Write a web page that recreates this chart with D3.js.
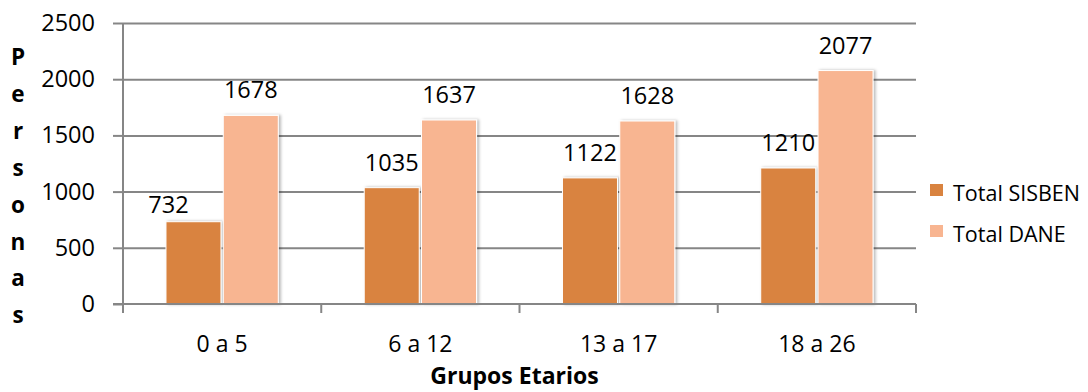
<!DOCTYPE html>
<html>
<head>
<meta charset="utf-8">
<script src="https://cdn.jsdelivr.net/npm/d3@7"></script>
<style>
  html, body { margin: 0; padding: 0; background: #fff; }
  svg { display: block; }
  text { font-family: "Open Sans", sans-serif; fill: #000; }
</style>
</head>
<body>
<svg id="chart" width="1088" height="392"></svg>
<script>
const categories = ["0 a 5", "6 a 12", "13 a 17", "18 a 26"];
const seriesNames = ["Total SISBEN", "Total DANE"];
const sisben = [732, 1035, 1122, 1210];
const dane = [1678, 1637, 1628, 2077];
const yTicks = [0, 500, 1000, 1500, 2000, 2500];
const seriesColors = ["#d9833f", "#f8b591"];
const yTitle = "Personas";
const xTitle = "Grupos Etarios";

(function() {
const svg = d3.select("#chart");
const gray = "#868686";
const pL = 123, pR = 916, pT = 23, pB = 304;

const defs = svg.append("defs");
const f = defs.append("filter").attr("id", "sh").attr("x", "-20%").attr("y", "-20%").attr("width", "140%").attr("height", "140%");
f.append("feDropShadow").attr("dx", 2).attr("dy", 0).attr("stdDeviation", 1.6).attr("flood-color", "#000").attr("flood-opacity", 0.28);

const y = d3.scaleLinear().domain([0, 2500]).range([pB, pT]);
const x0 = d3.scaleBand().domain(categories).range([pL, pR]).padding(0);
const x1 = d3.scaleBand().domain(seriesNames).range([0, x0.bandwidth()]).paddingInner(0.04).paddingOuter(0.75);

// gridlines
const gy = svg.append("g").attr("transform", `translate(${pL},0)`)
  .call(d3.axisLeft(y).tickValues(yTicks).tickSize(-(pR - pL)).tickFormat(""));
gy.select(".domain").remove();
gy.selectAll(".tick line").attr("stroke", gray).attr("stroke-width", 2);
gy.selectAll(".tick").filter(d => d === 0).remove();

// y axis with outward ticks and labels
const ya = svg.append("g").attr("transform", `translate(${pL},0)`)
  .call(d3.axisLeft(y).tickValues(yTicks).tickFormat(d3.format("d")).tickSize(10).tickPadding(18).tickSizeOuter(0));
ya.select(".domain").remove();
ya.selectAll(".tick line").attr("stroke", gray).attr("stroke-width", 2);
ya.selectAll(".tick text").attr("font-size", 23.5).attr("font-family", "Open Sans").attr("fill", "#000");
svg.append("line").attr("x1", pL).attr("x2", pL).attr("y1", pT).attr("y2", pB + 9)
  .attr("stroke", gray).attr("stroke-width", 2);

// bars
const data = categories.map((c, i) => ({ cat: c, vals: [sisben[i], dane[i]] }));
const groups = svg.append("g").selectAll("g").data(data).join("g")
  .attr("transform", d => `translate(${x0(d.cat)},0)`);
groups.selectAll("rect").data(d => d.vals.map((v, j) => ({ v, s: seriesNames[j], j })))
  .join("rect")
  .attr("x", d => x1(d.s))
  .attr("y", d => y(d.v))
  .attr("width", x1.bandwidth())
  .attr("height", d => pB - y(d.v))
  .attr("fill", d => seriesColors[d.j])
  .attr("stroke", "#fff").attr("stroke-width", 1)
  .attr("filter", "url(#sh)");

// value labels (first label was hand-nudged in the original)
const nudge = (ci, j) => (ci === 0 && j === 0) ? [-25, 8] : [0, 0];
groups.each(function(d, ci) {
  d3.select(this).selectAll("text.val").data(d.vals).join("text")
    .attr("class", "val")
    .attr("x", (v, j) => x1(seriesNames[j]) + x1.bandwidth() / 2 + nudge(ci, j)[0])
    .attr("y", (v, j) => y(v) - 17 + nudge(ci, j)[1])
    .attr("text-anchor", "middle")
    .attr("font-size", 23.5)
    .text(v => v);
});

// x axis
const xa = svg.append("g").attr("transform", `translate(0,${pB})`)
  .call(d3.axisBottom(x0).tickSize(0).tickPadding(32));
xa.select(".domain").remove();
xa.selectAll(".tick text").attr("font-size", 23).attr("font-family", "Open Sans").attr("fill", "#000");
svg.append("line").attr("x1", pL - 10).attr("x2", pR).attr("y1", pB).attr("y2", pB)
  .attr("stroke", gray).attr("stroke-width", 2);
const bounds = categories.map(c => x0(c)).concat([pR]);
svg.append("g").selectAll("line").data(bounds).join("line")
  .attr("x1", d => d).attr("x2", d => d).attr("y1", pB).attr("y2", pB + 9)
  .attr("stroke", gray).attr("stroke-width", 2);

// axis titles
const yt = svg.append("text").attr("font-weight", "bold").attr("font-size", 22.5).attr("text-anchor", "middle");
yTitle.split("").forEach((ch, i) => {
  yt.append("tspan").attr("x", 18).attr("y", 65 + i * 36.9).text(ch);
});
svg.append("text").attr("x", (pL + pR) / 2 - 5).attr("y", 384)
  .attr("text-anchor", "middle").attr("font-weight", "bold").attr("font-size", 23).text(xTitle);

// legend
const lg = svg.append("g").selectAll("g").data(seriesNames).join("g")
  .attr("transform", (d, i) => `translate(930,${184 + i * 41})`);
lg.append("rect").attr("width", 13).attr("height", 12).attr("fill", (d, i) => seriesColors[i]);
lg.append("text").attr("x", 23).attr("y", 17).attr("font-size", 21.5).text(d => d);
})();
</script>
</body>
</html>
